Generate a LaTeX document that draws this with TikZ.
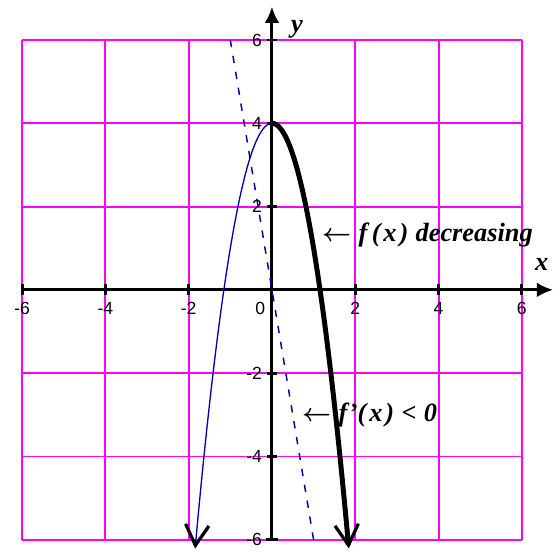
\documentclass[tikz,border=0pt]{standalone}
\usepackage{fontspec}
\setmainfont{Liberation Serif}
\setsansfont{Liberation Sans}
\usepackage{xcolor}
\usetikzlibrary{arrows.meta}

\definecolor{gridpink}{RGB}{255,0,255}
\definecolor{plotblue}{RGB}{0,0,170}

\begin{document}
\begin{tikzpicture}[
    gridline/.style={draw=gridpink, line width=1.3pt},
    axis/.style={draw=black, line width=2pt},
    ticklabel/.style={font=\sffamily\fontsize{12}{12}\selectfont, inner sep=1pt},
    note/.style={font=\bfseries\itshape\boldmath\fontsize{18}{20}\selectfont, inner sep=0pt, anchor=west},
    thickcurve/.style={draw=black, line width=3.4pt, line cap=round},
    thincurve/.style={draw=plotblue, line width=0.9pt},
    derivline/.style={draw=plotblue, line width=1pt, dash pattern=on 5pt off 6pt},
    vtip/.tip={Straight Barb[color=black, length=14pt, width=16pt, line width=2.2pt]}
]
    \useasboundingbox (-6.53,-6.31) rectangle (6.82,6.96);

    % Grid
    \draw[gridline] (-6,-6) grid[step=2] (6,6);

    % Axes
    \draw[axis, -{Latex[length=11pt, width=10pt]}] (-6,0) -- (6.75,0);
    \draw[axis, -{Latex[length=11pt, width=10pt]}] (0,-6) -- (0,6.8);

    % Tick marks
    \draw[axis] (-6,-0.13) -- (-6,0.13) (-4,-0.13) -- (-4,0.13) (-2,-0.13) -- (-2,0.13)
                (2,-0.13) -- (2,0.13) (4,-0.13) -- (4,0.13) (6,-0.13) -- (6,0.13);
    \draw[axis] (-0.15,-6) -- (0.15,-6) (-0.13,-4) -- (0.13,-4) (-0.13,-2) -- (0.13,-2)
                (-0.13,2) -- (0.13,2) (-0.13,4) -- (0.13,4) (-0.13,6) -- (0.13,6);

    % Tick labels
    \node[ticklabel] (xm6) at (-6,-0.45) {-6};
    \node[ticklabel] (xm4) at (-4,-0.45) {-4};
    \node[ticklabel] (xm2) at (-2,-0.45) {-2};
    \node[ticklabel] (xp2) at (2,-0.45) {2};
    \node[ticklabel] (xp4) at (4,-0.45) {4};
    \node[ticklabel] (xp6) at (6,-0.45) {6};
    \node[ticklabel, anchor=east] (orig) at (-0.12,-0.45) {0};
    \node[ticklabel, anchor=east] (yp6) at (-0.2,6) {6};
    \node[ticklabel, anchor=east] (yp4) at (-0.2,4) {4};
    \node[ticklabel, anchor=east] (yp2) at (-0.2,2) {2};
    \node[ticklabel, anchor=east] (ym2) at (-0.2,-2) {-2};
    \node[ticklabel, anchor=east] (ym4) at (-0.2,-4) {-4};
    \node[ticklabel, anchor=east] (ym6) at (-0.2,-6) {-6};

    % Axis names
    \node[font=\bfseries\itshape\fontsize{18}{18}\selectfont] (ylab) at (0.6,6.25) {y};
    \node[font=\bfseries\itshape\fontsize{18}{18}\selectfont] (xlab) at (6.48,0.62) {x};

    % f'(x) = -6x
    \draw[derivline] plot[domain=-1:1, samples=2] (\x, {-6*\x});

    % f(x) = 4 - 3x^2
    \draw[thincurve, vtip-] plot[domain=-1.845:0, samples=60, smooth] (\x, {4-3*\x*\x});
    \draw[thickcurve, -vtip] plot[domain=0:1.845, samples=60, smooth] (\x, {4-3*\x*\x});

    % Notes
    \node[note] (fdec) at (1.2,1.32)
        {$\leftarrow$\hspace{5pt}f\hspace{3pt}(\hspace{2pt}x\hspace{2pt})\hspace{5pt}decreasing};
    \node[note] (fneg) at (0.72,-3.0)
        {$\leftarrow$\hspace{5pt}f\hspace{1pt}'(\hspace{2pt}x\hspace{2pt})\hspace{5pt}<\hspace{5pt}0};
\end{tikzpicture}
\end{document}
